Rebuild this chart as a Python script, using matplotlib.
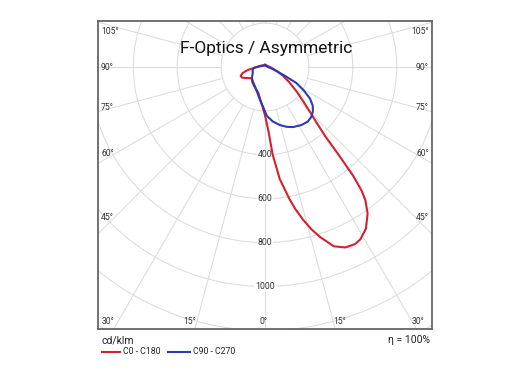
import numpy as np
import matplotlib
matplotlib.use("Agg")
import matplotlib.pyplot as plt

# Light distribution, cd/klm, gamma in degrees (0 = nadir, + = right side)
c0_gamma = [-180, -150, -120, -100, -90, -85, -80, -75, -70, -65, -58, -50, -40, -30, -20, -15,
            -10, -5, 0, 3, 5, 7.5, 10.5, 12, 14, 16, 18, 21, 24, 27, 29, 32, 35, 37, 38, 39, 40,
            41, 43, 45, 48, 52, 58, 64, 70, 80, 90, 120, 150, 180]
c0_value = [10, 10, 15, 25, 35, 50, 80, 105, 118, 115, 95, 80, 90, 100, 112, 120,
            140, 170, 220, 290, 400, 515, 612, 660, 717, 770, 815, 875, 900, 905, 897, 868, 815, 760, 715, 640, 520,
            420, 340, 290, 235, 185, 130, 90, 60, 35, 22, 12, 10, 10]

c90_gamma = [-180, -120, -100, -90, -84, -75, -63, -50, -39, -27, -18, -8, -3, 2, 8, 14, 20, 25,
             32, 38, 43, 47, 51, 55, 59, 63, 66, 70, 80, 90, 120, 180]
c90_value = [8, 10, 20, 40, 53, 58, 63, 78, 87, 100, 118, 155, 180, 222, 250, 272, 290, 302,
             312, 316, 310, 298, 280, 250, 205, 160, 100, 60, 25, 12, 8, 8]

ring_values = [200, 400, 600, 800, 1000, 1200, 1400, 1600]
ring_labels = ["400", "600", "800", "1000"]
side_labels = ["105°", "90°", "75°", "60°", "45°"]
bottom_labels = ["30°", "15°", "0°", "15°", "30°"]

W, H = 530, 376
fig = plt.figure(figsize=(W / 100, H / 100), dpi=100)
plt.rcParams['font.family'] = ['Roboto', 'DejaVu Sans']

# plot frame in pixels: left 98, right 432, top 21, bottom 329; pole at (265, 67)
s = 43.9 / 200
ax = fig.add_axes([98 / W, 1 - 329 / H, 334 / W, 308 / H])
ax.set_xlim(-(265 - 98) / s, (432 - 265) / s)
ax.set_ylim(-(329 - 67) / s, (67 - 21) / s)
ax.set_aspect('equal')
ax.set_xticks([])
ax.set_yticks([])
for sp in ax.spines.values():
    sp.set_color('#666666')
    sp.set_linewidth(1.3)

grid_c = '#dcdcdc'
t = np.linspace(0, 2 * np.pi, 400)
for rv in ring_values:
    ax.plot(rv * np.cos(t), rv * np.sin(t), color=grid_c, lw=0.75, zorder=1)
for a in range(0, 360, 15):
    ar = np.radians(a)
    ax.plot([200 * np.sin(ar), 3000 * np.sin(ar)], [-200 * np.cos(ar), -3000 * np.cos(ar)],
            color=grid_c, lw=0.75, zorder=1)

for lab, rv in zip(ring_labels, [400, 600, 800, 1000]):
    ax.text(0, -rv, lab, ha='center', va='center', fontsize=6.3, color='#333333', zorder=2,
            bbox=dict(facecolor='white', edgecolor='none', pad=0.6))

def polar_xy(g, v):
    g = np.radians(np.array(g, dtype=float))
    v = np.array(v, dtype=float)
    return v * np.sin(g), -v * np.cos(g)

x0, y0 = polar_xy(c0_gamma, c0_value)
x9, y9 = polar_xy(c90_gamma, c90_value)
ax.plot(x0, y0, color='#d4202f', lw=1.5, zorder=3)
ax.plot(x9, y9, color='#2b3bb3', lw=1.5, zorder=4)

def ptext(x, y, s_, **kw):
    fig.text(x / W, 1 - y / H, s_, **kw)

ptext(266, 48, "F-Optics / Asymmetric", ha='center', va='center', fontsize=12.5,
      color='#111111')

for lab, yy in zip(side_labels, [31, 67, 107, 154, 218]):
    ptext(101, yy, lab, ha='left', va='center', fontsize=6.2, color='#333333')
    ptext(429, yy, lab, ha='right', va='center', fontsize=6.2, color='#333333')
for lab, xx in zip(bottom_labels, [108, 190, 264, 340, 418]):
    ptext(xx, 321, lab, ha='center', va='center', fontsize=6.2, color='#333333')

ptext(101, 340, "cd/klm", ha='left', va='center', fontsize=7.5, color='#222222')
ptext(430, 340, "η = 100%", ha='right', va='center', fontsize=7.5, color='#222222')
fig.lines.append(plt.Line2D([102 / W, 120 / W], [1 - 352 / H] * 2, color='#d4202f', lw=1.5,
                            transform=fig.transFigure))
fig.lines.append(plt.Line2D([168 / W, 190 / W], [1 - 352 / H] * 2, color='#2b3bb3', lw=1.5,
                            transform=fig.transFigure))
ptext(123, 352, "C0 - C180", ha='left', va='center', fontsize=6.3, color='#222222')
ptext(193, 352, "C90 - C270", ha='left', va='center', fontsize=6.3, color='#222222')

fig.savefig("out.png", dpi=100)
